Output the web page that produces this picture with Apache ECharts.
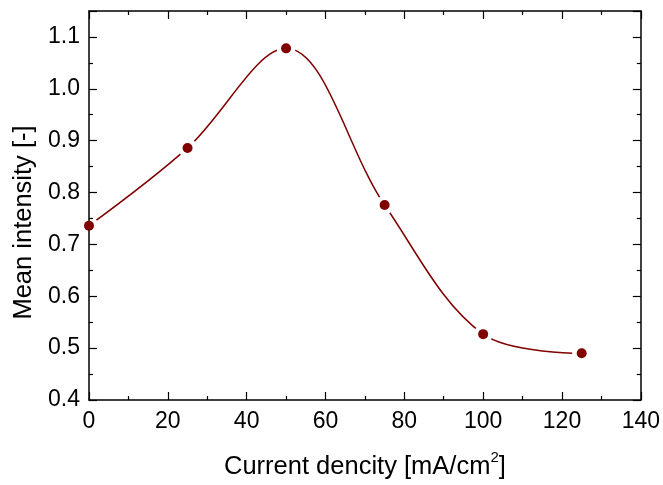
<!DOCTYPE html>
<html>
<head>
<meta charset="utf-8">
<script src="https://cdn.jsdelivr.net/npm/echarts@6/dist/echarts.min.js"></script>
<style>
html,body{margin:0;padding:0;background:#fff;}
#chart{width:663px;height:485px;}
</style>
</head>
<body>
<div id="chart"></div>
<script>
var currentDensity = [0, 25, 50, 75, 100, 125];
var meanIntensity = [0.736, 0.886, 1.078, 0.776, 0.527, 0.490];
var xTicks = [0, 20, 40, 60, 80, 100, 120, 140];
var yTicks = [0.4, 0.5, 0.6, 0.7, 0.8, 0.9, 1.0, 1.1];

var pts = currentDensity.map(function (x, i) { return [x, meanIntensity[i]]; });
var FONT = '"Liberation Sans", Arial, sans-serif';
var RED = '#800000';

var chart = echarts.init(document.getElementById('chart'), null, {renderer: 'canvas'});

function baseAxis(extra) {
  var a = {
    type: 'value',
    axisLine: {show: true, onZero: false, lineStyle: {color: '#000', width: 1.5}},
    axisTick: {show: true, inside: true, length: 8, lineStyle: {color: '#000', width: 1.2}},
    minorTick: {show: true, splitNumber: 2, length: 4, lineStyle: {color: '#000', width: 1.2}},
    splitLine: {show: false},
    minorSplitLine: {show: false}
  };
  for (var k in extra) a[k] = extra[k];
  return a;
}

var option = {
  backgroundColor: '#fff',
  animation: false,
  grid: {left: 89, right: 22, top: 11, bottom: 83},
  xAxis: [
    baseAxis({
      min: xTicks[0], max: xTicks[xTicks.length - 1], interval: 20, position: 'bottom', z: 5,
      axisLabel: {show: true, margin: 10, color: '#000', fontFamily: FONT, fontSize: 23},
      name: '{t|Current dencity [mA/cm}{sup|2}{t|]}',
      nameLocation: 'middle', nameGap: 50,
      nameTextStyle: {color: '#000', fontFamily: FONT, fontSize: 25.5,
        rich: {
          t: {fontFamily: FONT, fontSize: 25.5, color: '#000', lineHeight: 30, verticalAlign: 'bottom'},
          sup: {fontFamily: FONT, fontSize: 15, color: '#000', lineHeight: 15, verticalAlign: 'top'}
        }}
    }),
    baseAxis({
      min: xTicks[0], max: xTicks[xTicks.length - 1], interval: 20, position: 'top', z: 5,
      axisLabel: {show: false}
    })
  ],
  yAxis: [
    baseAxis({
      min: yTicks[0], max: 1.15, interval: 0.1, position: 'left', z: 5,
      axisLabel: {show: true, margin: 9, color: '#000', fontFamily: FONT, fontSize: 23,
        showMaxLabel: false,
        formatter: function (v) { return v.toFixed(1); }},
      name: 'Mean intensity [-]',
      nameLocation: 'middle', nameGap: 44,
      nameTextStyle: {color: '#000', fontFamily: FONT, fontSize: 25.5, padding: [0, 34, 0, 0]}
    }),
    baseAxis({
      min: yTicks[0], max: 1.15, interval: 0.1, position: 'right', z: 5,
      axisLabel: {show: false}
    })
  ],
  series: [
    {
      type: 'line',
      data: pts,
      smooth: 0.35,
      z: 2,
      symbol: 'circle',
      symbolSize: 19,
      showSymbol: true,
      itemStyle: {color: '#fff', borderWidth: 0, opacity: 1},
      lineStyle: {color: RED, width: 1.5},
      clip: false
    },
    {
      type: 'scatter',
      data: pts,
      z: 10,
      symbol: 'circle',
      symbolSize: 10,
      itemStyle: {color: RED, opacity: 1},
      clip: false
    }
  ]
};
chart.setOption(option);
</script>
</body>
</html>
